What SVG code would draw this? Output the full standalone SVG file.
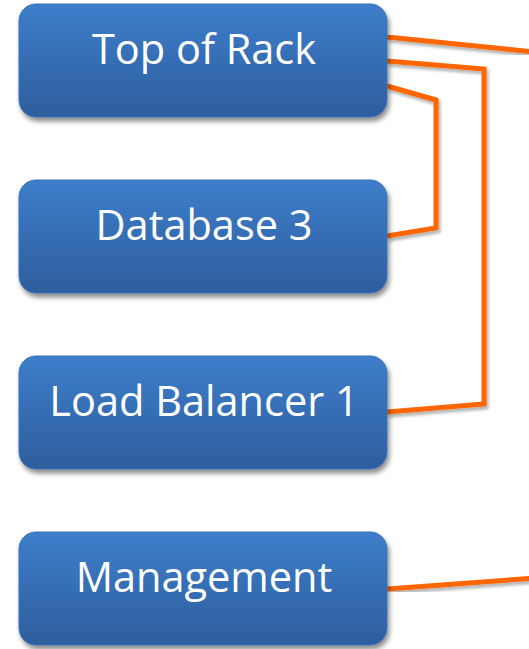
<svg xmlns="http://www.w3.org/2000/svg" width="529" height="649" viewBox="0 0 529 649">
  <defs>
    <linearGradient id="boxFill" x1="0" y1="0" x2="0" y2="1">
      <stop offset="0" stop-color="#3D7ECC"/>
      <stop offset="1" stop-color="#2E5E9D"/>
    </linearGradient>
    <filter id="boxShadow" x="-10%" y="-10%" width="125%" height="135%">
      <feGaussianBlur in="SourceAlpha" stdDeviation="2.5"/>
      <feOffset dx="2" dy="4" result="b"/>
      <feComponentTransfer><feFuncA type="linear" slope="0.45"/></feComponentTransfer>
      <feMerge><feMergeNode/><feMergeNode in="SourceGraphic"/></feMerge>
    </filter>
    <filter id="lineShadow" x="-10%" y="-10%" width="130%" height="130%">
      <feGaussianBlur in="SourceAlpha" stdDeviation="1.5"/>
      <feOffset dx="2" dy="3"/>
      <feComponentTransfer><feFuncA type="linear" slope="0.3"/></feComponentTransfer>
      <feMerge><feMergeNode/><feMergeNode in="SourceGraphic"/></feMerge>
    </filter>
  </defs>
  <style>
    .box { fill: url(#boxFill); stroke: #3A70B5; stroke-width: 1; filter: url(#boxShadow); }
    .label { font-family: "Open Sans", "Noto Sans", "Liberation Sans", sans-serif; font-size: 41.5px; fill: #FFFFFF; text-anchor: middle; }
    .wire { fill: none; stroke: #FF6600; stroke-width: 5; stroke-linejoin: miter; filter: url(#lineShadow); }
  </style>
  <rect width="529" height="649" fill="#FFFFFF"/>

  <g id="connectors">
    <polyline class="wire" points="387,37 535,52"/>
    <polyline class="wire" points="387,61 484,69 484,404 387,412"/>
    <polyline class="wire" points="387,86 436,100 436,228 387,236"/>
    <polyline class="wire" points="387,589 535,578"/>
  </g>

  <g id="top-of-rack">
    <rect class="box" x="19" y="4" width="368" height="113" rx="17"/>
    <text class="label" x="204" y="64">Top of Rack</text>
  </g>
  <g id="database-3">
    <rect class="box" x="19" y="180" width="368" height="113" rx="17"/>
    <text class="label" x="204" y="240">Database 3</text>
  </g>
  <g id="load-balancer-1">
    <rect class="box" x="19" y="356" width="368" height="113" rx="17"/>
    <text class="label" x="204" y="416">Load Balancer 1</text>
  </g>
  <g id="management">
    <rect class="box" x="19" y="532" width="368" height="113" rx="17"/>
    <text class="label" x="204" y="592">Management</text>
  </g>
</svg>
